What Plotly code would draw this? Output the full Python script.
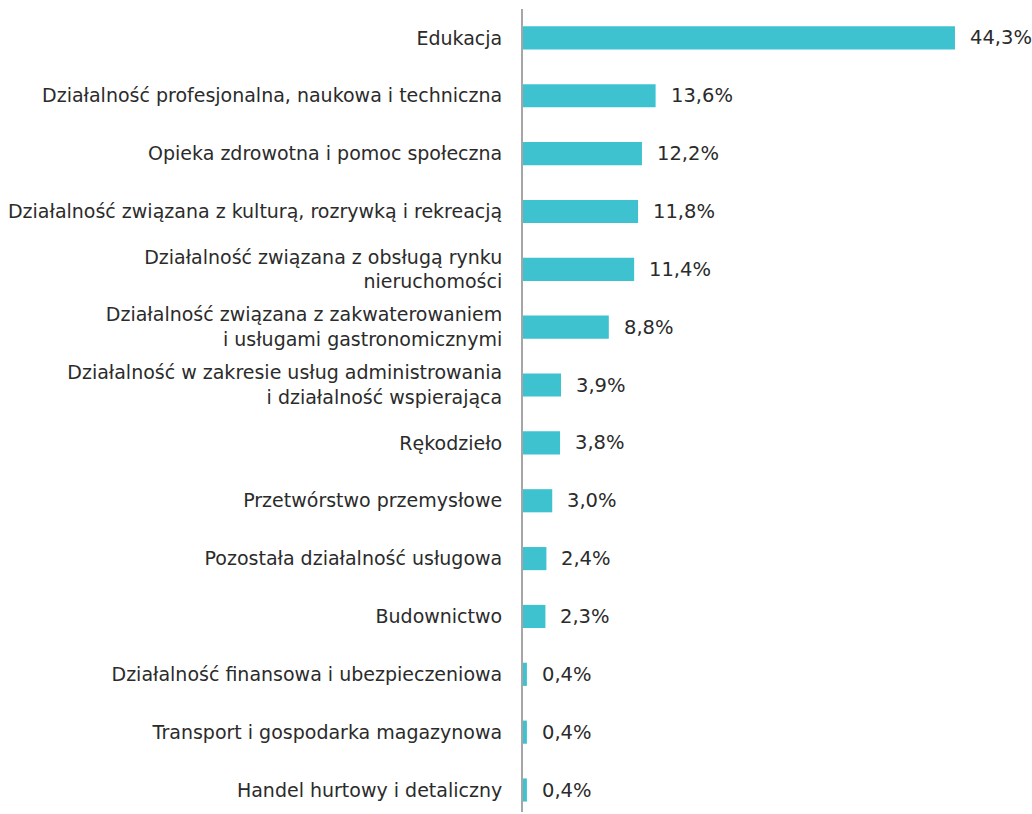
import plotly.graph_objects as go

categories = [
    "Edukacja",
    "Działalność profesjonalna, naukowa i techniczna",
    "Opieka zdrowotna i pomoc społeczna",
    "Działalność związana z kulturą, rozrywką i rekreacją",
    "Działalność związana z obsługą rynku<br>nieruchomości",
    "Działalność związana z zakwaterowaniem<br>i usługami gastronomicznymi",
    "Działalność w zakresie usług administrowania<br>i działalność wspierająca",
    "Rękodzieło",
    "Przetwórstwo przemysłowe",
    "Pozostała działalność usługowa",
    "Budownictwo",
    "Działalność finansowa i ubezpieczeniowa",
    "Transport i gospodarka magazynowa",
    "Handel hurtowy i detaliczny",
]
values = [44.3, 13.6, 12.2, 11.8, 11.4, 8.8, 3.9, 3.8, 3.0, 2.4, 2.3, 0.4, 0.4, 0.4]
labels = [f"{v:.1f}%".replace(".", ",") for v in values]

bar_color = "#3EC2CF"
text_color = "#2B2B2B"

fig = go.Figure()
fig.add_trace(go.Bar(
    x=values, y=categories, orientation="h",
    marker=dict(color=bar_color, line=dict(width=0)),
    hoverinfo="skip",
))

# value labels just right of each bar
for cat, v, lab in zip(categories, values, labels):
    fig.add_annotation(x=v, y=cat, text=lab, showarrow=False,
                       xanchor="left", xshift=13,
                       font=dict(size=19.5, color=text_color))

fig.update_layout(
    width=1032, height=812,
    margin=dict(l=523, r=0, t=9, b=0),
    plot_bgcolor="white", paper_bgcolor="white",
    bargap=0.6, showlegend=False,
    font=dict(family="DejaVu Sans, Verdana, sans-serif", size=19, color=text_color),
    xaxis=dict(range=[0, 52.2], showgrid=False, zeroline=False,
               showticklabels=False, showline=False),
    # keep the same row spacing as the original (bottom row near the edge)
    yaxis=dict(range=[13.38, -0.5], showgrid=False, zeroline=False,
               showline=True, linecolor="#A6A6A6", linewidth=2,
               ticks="", ticklabelstandoff=15, automargin=False),
)

# drop the default page margin so the figure fills the window exactly
fig.write_html("out.html",
               config=dict(displayModeBar=False),
               post_script="document.body.style.margin='0';"
                           "document.documentElement.style.overflow='hidden';")
